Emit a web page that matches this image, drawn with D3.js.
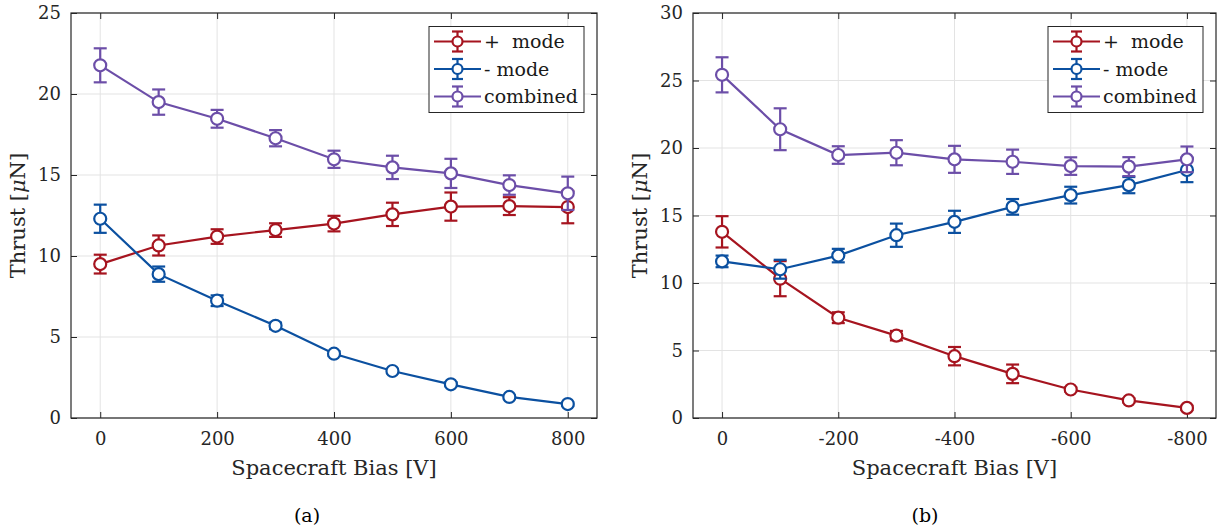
<!DOCTYPE html>
<head>
  <meta charset="utf-8">
  <script src="https://d3js.org/d3.v7.min.js"></script>
  <style>
    body { margin: 0; background: #fff; }
    svg text { font-family: "DejaVu Serif", serif; }
  </style>
</head>
<body>
<script>

// panel (a): positive bias
var biasA = [0, 100, 200, 300, 400, 500, 600, 700, 800];
var plusA = [9.5, 10.65, 11.2, 11.6, 12.0, 12.57, 13.05, 13.08, 13.02];
var plusAErr = [0.58, 0.62, 0.45, 0.42, 0.48, 0.72, 0.87, 0.55, 1.0];
var minusA = [12.3, 8.88, 7.24, 5.69, 3.97, 2.9, 2.08, 1.3, 0.86];
var minusAErr = [0.87, 0.47, 0.33, 0.2, 0.15, 0.13, 0.12, 0.1, 0.1];
var combA = [21.77, 19.5, 18.47, 17.27, 15.97, 15.47, 15.1, 14.38, 13.87];
var combAErr = [1.05, 0.78, 0.55, 0.5, 0.53, 0.72, 0.9, 0.6, 1.03];

// panel (b): negative bias
var biasB = [0, -100, -200, -300, -400, -500, -600, -700, -800];
var plusB = [13.79, 10.32, 7.43, 6.1, 4.58, 3.27, 2.11, 1.3, 0.75];
var plusBErr = [1.16, 1.3, 0.4, 0.35, 0.68, 0.69, 0.15, 0.15, 0.15];
var minusB = [11.6, 11.02, 12.03, 13.54, 14.53, 15.64, 16.51, 17.25, 18.37];
var minusBErr = [0.43, 0.7, 0.5, 0.86, 0.82, 0.58, 0.62, 0.6, 0.9];
var combB = [25.42, 21.39, 19.48, 19.65, 19.16, 18.98, 18.66, 18.62, 19.16];
var combBErr = [1.3, 1.55, 0.65, 0.93, 1.0, 0.9, 0.65, 0.7, 0.95];

var xTicksA = [0, 200, 400, 600, 800];
var xTicksB = [0, -200, -400, -600, -800];
var yTicksA = [0, 5, 10, 15, 20, 25];
var yTicksB = [0, 5, 10, 15, 20, 25, 30];

var seriesNames = ["+ mode", "- mode", "combined"];
var colors = ["#a6141f", "#0b50a0", "#6c4ea8"];

var svg = d3.select("body").append("svg")
    .attr("width", 1228)
    .attr("height", 531);

function panel(box, xDomain, yMax, xs, ys, errs, xTicks, yTicks, caption) {
  var x = d3.scaleLinear().domain(xDomain).range([box.left, box.right]);
  var y = d3.scaleLinear().domain([0, yMax]).range([box.bottom, box.top]);
  var g = svg.append("g");

  // grid
  g.selectAll(".gx").data(xTicks).enter().append("line")
      .attr("x1", function(d) { return x(d); }).attr("x2", function(d) { return x(d); })
      .attr("y1", box.top).attr("y2", box.bottom)
      .attr("stroke", "#e3e3e3").attr("stroke-width", 1);
  g.selectAll(".gy").data(yTicks).enter().append("line")
      .attr("y1", function(d) { return y(d); }).attr("y2", function(d) { return y(d); })
      .attr("x1", box.left).attr("x2", box.right)
      .attr("stroke", "#e3e3e3").attr("stroke-width", 1);

  // axes
  var fmt = function(d) { return String(d); };
  g.append("g")
      .attr("transform", "translate(0," + box.bottom + ")")
      .call(d3.axisBottom(x).tickValues(xTicks).tickSizeInner(-6).tickSizeOuter(0).tickPadding(14).tickFormat(fmt))
      .call(styleAxis);
  g.append("g")
      .attr("transform", "translate(0," + box.top + ")")
      .call(d3.axisTop(x).tickValues(xTicks).tickSizeInner(-6).tickSizeOuter(0).tickFormat(""))
      .call(styleAxis);
  g.append("g")
      .attr("transform", "translate(" + box.left + ",0)")
      .call(d3.axisLeft(y).tickValues(yTicks).tickSizeInner(-6).tickSizeOuter(0).tickPadding(10))
      .call(styleAxis);
  g.append("g")
      .attr("transform", "translate(" + box.right + ",0)")
      .call(d3.axisRight(y).tickValues(yTicks).tickSizeInner(-6).tickSizeOuter(0).tickFormat(""))
      .call(styleAxis);

  // series
  var line = d3.line();
  for (var s = 0; s < 3; s++) {
    var pts = xs.map(function(d, i) { return [x(d), y(ys[s][i])]; });
    var sg = g.append("g").attr("stroke", colors[s]).attr("stroke-width", 2.2).attr("fill", "none");
    sg.append("path").attr("d", line(pts));
    xs.forEach(function(d, i) {
      var cx = x(d), hi = y(ys[s][i] + errs[s][i]), lo = y(ys[s][i] - errs[s][i]);
      sg.append("line").attr("x1", cx).attr("x2", cx).attr("y1", hi).attr("y2", lo);
      sg.append("line").attr("x1", cx - 6.5).attr("x2", cx + 6.5).attr("y1", hi).attr("y2", hi);
      sg.append("line").attr("x1", cx - 6.5).attr("x2", cx + 6.5).attr("y1", lo).attr("y2", lo);
    });
    sg.selectAll("circle").data(pts).enter().append("circle")
        .attr("cx", function(p) { return p[0]; })
        .attr("cy", function(p) { return p[1]; })
        .attr("r", 6)
        .attr("fill", "#fff");
  }

  // legend
  var lw = 155, lh = 86;
  var lx = box.right - 13 - lw, ly = box.top + 13.5;
  var leg = g.append("g").attr("transform", "translate(" + lx + "," + ly + ")");
  leg.append("rect").attr("width", lw).attr("height", lh)
      .attr("fill", "#fff").attr("stroke", "#262626").attr("stroke-width", 1);
  seriesNames.forEach(function(name, i) {
    var cy = 15 + i * 27.5;
    var r = leg.append("g").attr("stroke", colors[i]).attr("stroke-width", 2.2).attr("fill", "none");
    r.append("line").attr("x1", 5).attr("x2", 52).attr("y1", cy).attr("y2", cy);
    r.append("line").attr("x1", 28.5).attr("x2", 28.5).attr("y1", cy - 10).attr("y2", cy + 10);
    r.append("line").attr("x1", 23).attr("x2", 34).attr("y1", cy - 10).attr("y2", cy - 10);
    r.append("line").attr("x1", 23).attr("x2", 34).attr("y1", cy + 10).attr("y2", cy + 10);
    r.append("circle").attr("cx", 28.5).attr("cy", cy).attr("r", 5).attr("fill", "#fff");
    leg.append("text").attr("x", 55).attr("y", cy).attr("dy", "0.35em")
        .attr("font-size", 19).attr("fill", "#1a1a1a").attr("xml:space", "preserve").text(name.replace("+ ", "+  "));
  });

  // labels
  g.append("text")
      .attr("x", (box.left + box.right) / 2).attr("y", box.bottom + 57)
      .attr("text-anchor", "middle").attr("font-size", 21).attr("fill", "#262626")
      .text("Spacecraft Bias [V]");
  var yl = g.append("text")
      .attr("transform", "translate(" + (box.left - 46) + "," + ((box.top + box.bottom) / 2) + ") rotate(-90)")
      .attr("text-anchor", "middle").attr("font-size", 21).attr("fill", "#262626");
  yl.append("tspan").text("Thrust [");
  yl.append("tspan").attr("font-style", "italic").text("\u03bc");
  yl.append("tspan").text("N]");
  g.append("text")
      .attr("x", caption.x).attr("y", 522)
      .attr("text-anchor", "middle").attr("font-size", 19).attr("fill", "#000")
      .text(caption.text);
}

function styleAxis(sel) {
  sel.select(".domain").remove();
  sel.selectAll(".tick line").attr("stroke", "#262626").attr("stroke-width", 1);
  sel.selectAll(".tick text").attr("font-size", 18).attr("font-family", "DejaVu Serif").attr("fill", "#262626");
}

function frame(box) {
  svg.append("rect")
      .attr("x", box.left).attr("y", box.top)
      .attr("width", box.right - box.left).attr("height", box.bottom - box.top)
      .attr("fill", "none").attr("stroke", "#262626").attr("stroke-width", 1.2);
}

var boxA = {left: 71, right: 597, top: 13, bottom: 418};
var boxB = {left: 693, right: 1216, top: 13, bottom: 418};

panel(boxA, [-50, 850], 25, biasA, [plusA, minusA, combA], [plusAErr, minusAErr, combAErr],
      xTicksA, yTicksA, {x: 307, text: "(a)"});
panel(boxB, [50, -850], 30, biasB, [plusB, minusB, combB], [plusBErr, minusBErr, combBErr],
      xTicksB, yTicksB, {x: 925, text: "(b)"});
frame(boxA);
frame(boxB);

</script>
</body>
